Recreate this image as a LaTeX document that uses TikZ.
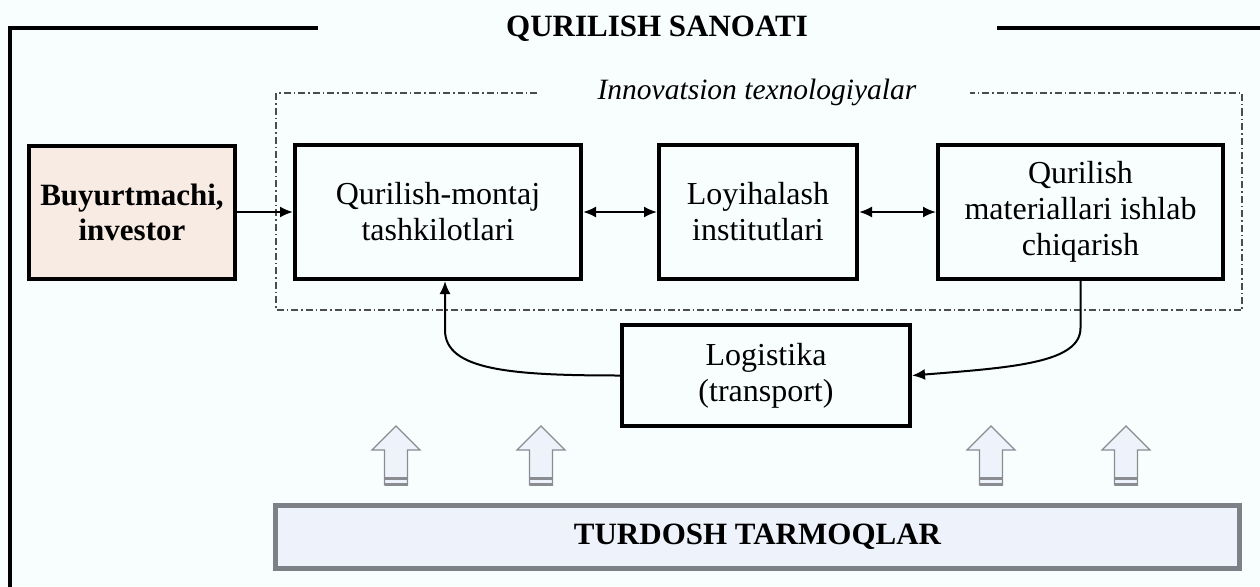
\documentclass[tikz,border=0pt]{standalone}
\usepackage{fontspec}
\setmainfont{Liberation Serif}
\usetikzlibrary{arrows.meta}

\definecolor{fon}{RGB}{248,254,254}
\definecolor{buyfill}{RGB}{248,235,228}
\definecolor{turdfill}{RGB}{238,242,250}
\definecolor{turdline}{RGB}{126,128,136}
\definecolor{strelka}{RGB}{138,140,146}

\begin{document}
\begin{tikzpicture}[x=1pt,y=-1pt,
    blok/.style={draw, line width=4pt, inner sep=0pt, align=center,
        font=\fontsize{32}{36}\selectfont},
    arr/.style={line width=2pt, -{Latex[length=13pt,width=11pt]}},
    darr/.style={line width=2pt, {Latex[length=13pt,width=11pt]}-{Latex[length=13pt,width=11pt]}}]

    \fill[fon] (0,0) rectangle (1260,586);
    \useasboundingbox (0,0) rectangle (1260,586);

    % tashqi ramka
    \draw[line width=4pt] (318,28) -- (10,28) -- (10,590);
    \draw[line width=4pt] (997,28) -- (1264,28);
    \node[anchor=base, font=\bfseries\fontsize{31}{36}\selectfont] (sarlavha) at (657,37) {QURILISH SANOATI};

    % innovatsiya sohasi
    \draw[black!70, line width=1.2pt, dash pattern=on 7pt off 3pt on 1.5pt off 3pt]
        (537,93) -- (276,93) -- (276,310) -- (1242,310) -- (1242,93) -- (970,93);
    \node[font=\itshape\fontsize{29.5}{34}\selectfont] (innov) at (757,92) {Innovatsion texnologiyalar};

    % bloklar
    \node[blok, fill=buyfill, minimum width=206pt, minimum height=133pt,
        font=\bfseries\fontsize{31}{35}\selectfont] (buy) at (132,212) {Buyurtmachi,\\investor};
    \node[blok, minimum width=286pt, minimum height=134pt] (qm) at (438,212) {Qurilish-montaj\\tashkilotlari};
    \node[blok, minimum width=198pt, minimum height=134pt] (loy) at (758,212) {Loyihalash\\institutlari};
    \node[blok, minimum width=285pt, minimum height=134pt] (mat) at (1080.5,212) {Qurilish\\materiallari ishlab\\chiqarish};
    \node[blok, minimum width=288pt, minimum height=101pt] (log) at (766,375.5) {Logistika\\(transport)};
    \node[draw=turdline, fill=turdfill, line width=5pt, inner sep=0pt, minimum width=964pt, minimum height=63pt,
        font=\bfseries\fontsize{31}{36}\selectfont] (turd) at (757.5,537) {TURDOSH TARMOQLAR};

    % bog'lanishlar
    \coordinate (chap) at (445,330);
    \coordinate (ong) at (1080.5,328);
    \draw[arr] (buy.east) -- (qm.west);
    \draw[darr] (qm.east) -- (loy.west);
    \draw[darr] (loy.east) -- (mat.west);
    \draw[arr] (mat.south) -- (ong) .. controls +(0,35) and +(100,-8) .. (log.east);
    \draw[arr] (log.west) .. controls +(-110,0) and +(0,40) .. (chap) -- ([xshift=7pt]qm.south);

    % yo'g'on strelkalar
    \foreach \x in {396,541,991,1126} {
        \draw[strelka, fill=turdfill, line width=1.2pt] (\x,426) -- (\x+24,450) -- (\x+11.5,450)
            -- (\x+11.5,485) -- (\x-11.5,485) -- (\x-11.5,450) -- (\x-24,450) -- cycle;
        \fill[strelka] (\x-11.5,477) rectangle (\x+11.5,480);
        \fill[strelka] (\x-11.5,482.5) rectangle (\x+11.5,485.5);
    }
\end{tikzpicture}
\end{document}
